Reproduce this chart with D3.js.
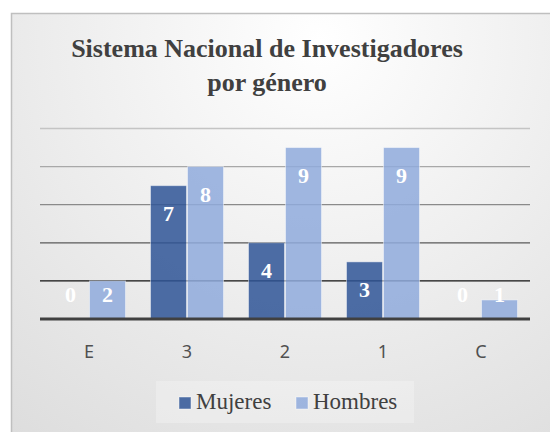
<!DOCTYPE html>
<html>
<head>
<meta charset="utf-8">
<script src="https://cdn.jsdelivr.net/npm/d3@7/dist/d3.min.js"></script>
<style>
  html, body { margin: 0; padding: 0; background: #ffffff; }
  svg { display: block; }
</style>
</head>
<body>
<svg id="chart" width="550" height="432"></svg>
<script>
// ---- data ----
const categories = ["E", "3", "2", "1", "C"];
const seriesNames = ["Mujeres", "Hombres"];
const mujeres = [0, 7, 4, 3, 0];
const hombres = [2, 8, 9, 9, 1];
const yTicks = [0, 2, 4, 6, 8, 10];
const titleLines = ["Sistema Nacional de Investigadores", "por género"];

// ---- styles ----
const colors = { Mujeres: "#2f5597", Hombres: "#8faadc" };
const gridColors = { 2: "#111111", 4: "#5a5a5a", 6: "#8a8a8a", 8: "#a8a8a8", 10: "#c4c4c4" };

const svg = d3.select("#chart");

// background radial gradient
const defs = svg.append("defs");
const grad = defs.append("radialGradient")
  .attr("id", "bg").attr("gradientUnits", "userSpaceOnUse")
  .attr("cx", 320).attr("cy", 40).attr("r", 560);
grad.append("stop").attr("offset", "0%").attr("stop-color", "#ffffff");
grad.append("stop").attr("offset", "100%").attr("stop-color", "#d9d9d9");

svg.append("rect").attr("x", 0).attr("y", 0).attr("width", 550).attr("height", 432).attr("fill", "#ffffff");
svg.append("rect").attr("x", 11.5).attr("y", 13.5).attr("width", 560).attr("height", 440)
  .attr("fill", "url(#bg)").attr("stroke", "#bfbfbf").attr("stroke-width", 1.5);

// title
const title = svg.append("text")
  .attr("x", 267).attr("text-anchor", "middle")
  .attr("font-family", "'Liberation Serif', 'Times New Roman', serif")
  .attr("font-weight", "bold").attr("font-size", 26).attr("fill", "#404040");
titleLines.forEach((t, i) => {
  title.append("tspan").attr("x", 267).attr("y", 57 + i * 34).text(t);
});

// scales
const x0 = d3.scaleBand().domain(categories).range([40, 530])
  .paddingInner(0.255).paddingOuter(0.1275);
const x1 = d3.scaleBand().domain(seriesNames).range([0, x0.bandwidth()]).paddingInner(0.028);
const y = d3.scaleLinear().domain([0, 10]).range([319, 128.5]);

// gridlines
svg.append("g").selectAll("line").data(yTicks.filter(d => d > 0)).join("line")
  .attr("x1", 40).attr("x2", 530)
  .attr("y1", d => y(d)).attr("y2", d => y(d))
  .attr("stroke", d => gridColors[d]).attr("stroke-width", 1.3);

// bars
const rows = categories.map((c, i) => ({ cat: c, Mujeres: mujeres[i], Hombres: hombres[i] }));
const groups = svg.append("g").selectAll("g").data(rows).join("g")
  .attr("transform", d => `translate(${x0(d.cat)},0)`);

groups.selectAll("rect").data(d => seriesNames.map(s => ({ s, v: d[s] }))).join("rect")
  .attr("x", d => x1(d.s)).attr("width", x1.bandwidth())
  .attr("y", d => y(d.v)).attr("height", d => y(0) - y(d.v))
  .attr("fill", d => colors[d.s]).attr("fill-opacity", 0.85)
  .attr("stroke", "#ffffff").attr("stroke-opacity", 0.45).attr("stroke-width", 1)
  .style("display", d => d.v > 0 ? null : "none");

// data labels
groups.selectAll("text").data(d => seriesNames.map(s => ({ s, v: d[s] }))).join("text")
  .attr("x", d => x1(d.s) + x1.bandwidth() / 2)
  .attr("y", d => Math.min(y(d.v) + 35, y(0) - 17))
  .attr("text-anchor", "middle")
  .attr("font-family", "'Liberation Serif', 'Times New Roman', serif")
  .attr("font-weight", "bold").attr("font-size", 22).attr("fill", "#ffffff")
  .text(d => d.v);

// x axis
const xAxis = svg.append("g").attr("transform", `translate(0,${y(0)})`)
  .call(d3.axisBottom(x0).tickSize(0).tickPadding(0));
xAxis.select(".domain").remove();
svg.append("line").attr("x1", 40).attr("x2", 530).attr("y1", y(0)).attr("y2", y(0))
  .attr("stroke", "#404040").attr("stroke-width", 3);
xAxis.selectAll("text")
  .attr("y", 39).attr("dy", null)
  .attr("font-family", "'Noto Sans', 'Open Sans', sans-serif")
  .attr("font-size", 18).attr("fill", "#505050");

// legend
const legend = svg.append("g");
legend.append("rect").attr("x", 156).attr("y", 381).attr("width", 258).attr("height", 42)
  .attr("fill", "#ffffff").attr("fill-opacity", 0.25);
const legendX = [179, 296];
seriesNames.forEach((s, i) => {
  legend.append("rect").attr("x", legendX[i]).attr("y", 397).attr("width", 12).attr("height", 12)
    .attr("fill", colors[s]).attr("fill-opacity", 0.85)
    .attr("stroke", "#ffffff").attr("stroke-opacity", 0.45);
  legend.append("text").attr("x", legendX[i] + 17).attr("y", 409)
    .attr("font-family", "'Liberation Serif', 'Times New Roman', serif")
    .attr("font-size", 23).attr("fill", "#404040").text(s);
});
</script>
</body>
</html>
